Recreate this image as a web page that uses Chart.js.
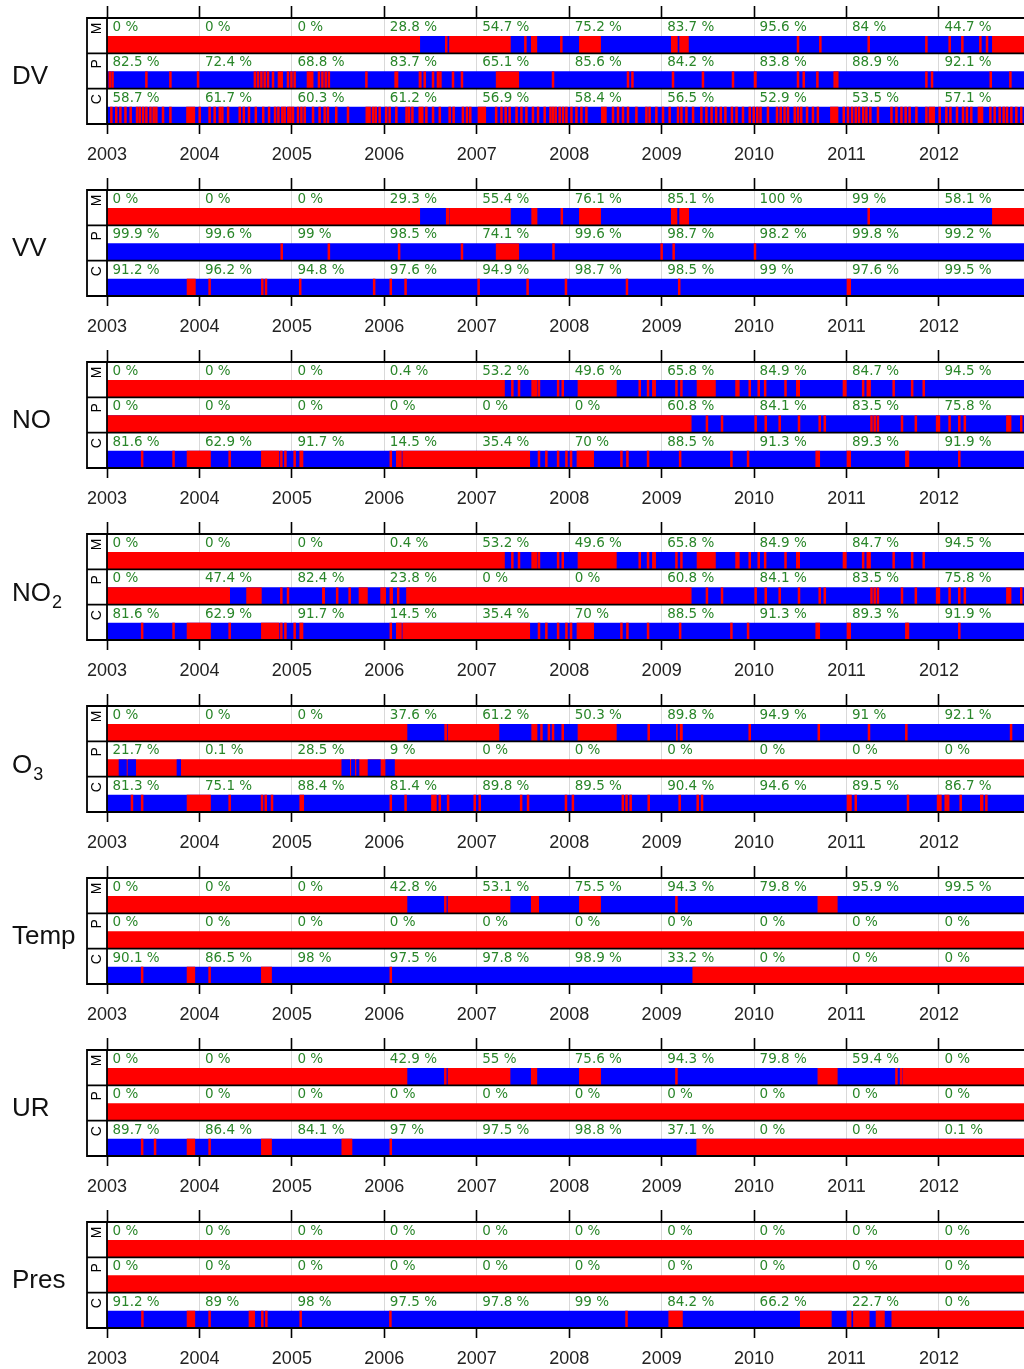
<!DOCTYPE html>
<html><head><meta charset="utf-8">
<script src="https://cdn.jsdelivr.net/npm/chart.js@4.4.1/dist/chart.umd.min.js"></script>
<style>
html,body{margin:0;padding:0;background:#fff;width:1024px;height:1369px;overflow:hidden}
canvas{position:absolute;left:0}
</style></head><body>
<script>
// ---------- DATA ----------
const years = [2003,2004,2005,2006,2007,2008,2009,2010,2011,2012];
const rowNames = ['M','P','C'];
const timeStart = 2003, timeEnd = 2013;

// yearly availability (%) printed above each bar
const DV_M_pct = [0,0,0,28.8,54.7,75.2,83.7,95.6,84,44.7];
const DV_P_pct = [82.5,72.4,68.8,83.7,65.1,85.6,84.2,83.8,88.9,92.1];
const DV_C_pct = [58.7,61.7,60.3,61.2,56.9,58.4,56.5,52.9,53.5,57.1];
const VV_M_pct = [0,0,0,29.3,55.4,76.1,85.1,100,99,58.1];
const VV_P_pct = [99.9,99.6,99,98.5,74.1,99.6,98.7,98.2,99.8,99.2];
const VV_C_pct = [91.2,96.2,94.8,97.6,94.9,98.7,98.5,99,97.6,99.5];
const NO_M_pct = [0,0,0,0.4,53.2,49.6,65.8,84.9,84.7,94.5];
const NO_P_pct = [0,0,0,0,0,0,60.8,84.1,83.5,75.8];
const NO_C_pct = [81.6,62.9,91.7,14.5,35.4,70,88.5,91.3,89.3,91.9];
const NO2_M_pct = [0,0,0,0.4,53.2,49.6,65.8,84.9,84.7,94.5];
const NO2_P_pct = [0,47.4,82.4,23.8,0,0,60.8,84.1,83.5,75.8];
const NO2_C_pct = [81.6,62.9,91.7,14.5,35.4,70,88.5,91.3,89.3,91.9];
const O3_M_pct = [0,0,0,37.6,61.2,50.3,89.8,94.9,91,92.1];
const O3_P_pct = [21.7,0.1,28.5,9,0,0,0,0,0,0];
const O3_C_pct = [81.3,75.1,88.4,81.4,89.8,89.5,90.4,94.6,89.5,86.7];
const Temp_M_pct = [0,0,0,42.8,53.1,75.5,94.3,79.8,95.9,99.5];
const Temp_P_pct = [0,0,0,0,0,0,0,0,0,0];
const Temp_C_pct = [90.1,86.5,98,97.5,97.8,98.9,33.2,0,0,0];
const UR_M_pct = [0,0,0,42.9,55,75.6,94.3,79.8,59.4,0];
const UR_P_pct = [0,0,0,0,0,0,0,0,0,0];
const UR_C_pct = [89.7,86.4,84.1,97,97.5,98.8,37.1,0,0,0.1];
const Pres_M_pct = [0,0,0,0,0,0,0,0,0,0];
const Pres_P_pct = [0,0,0,0,0,0,0,0,0,0];
const Pres_C_pct = [91.2,89,98,97.5,97.8,99,84.2,66.2,22.7,0];

// missing periods (red) over available (blue): [start,end] in years, or a single instant
const DV_M_red = [[2003,2006.383],[2006.66,2006.68],[2006.705,2007.364],2007.526,[2007.59,2007.65],2007.915,[2008.11,2008.34],[2009.105,2009.17],[2009.195,2009.29],2010.475,2010.717,2011.24,2011.864,2012.116,2012.253,2012.448,2012.52,[2012.578,2013]];
const DV_P_red = [2003.03,2003.06,2003.426,2003.686,2003.985,2004.60,2004.634,2004.67,2004.706,2004.742,2004.796,[2004.85,2004.90],2004.958,2004.995,2005.03,[2005.164,2005.23],2005.293,2005.33,2005.366,[2005.39,2005.41],2005.806,[2006.112,2006.148],[2006.375,2006.4],2006.437,2006.527,2006.58,2006.607,2006.743,2006.84,[2007.21,2007.454],2007.825,2008.636,2008.684,2009.123,2009.447,2009.772,[2010.0,2010.025],2010.475,2010.537,2010.685,2010.872,2010.9,2011.864,2011.925,2012.56,2012.773];
const DV_C_red = [2003.047,2003.10,2003.145,2003.20,2003.256,2003.325,2003.354,2003.39,2003.426,2003.47,2003.505,2003.534,2003.606,2003.686,[2003.86,2003.95],2004.003,2004.11,2004.165,2004.22,2004.248,2004.31,2004.436,2004.48,2004.536,2004.61,2004.69,2004.753,2004.818,2004.854,2004.897,2004.922,2004.962,2004.984,2005.012,2005.066,2005.103,2005.139,2005.229,2005.30,2005.355,2005.39,2005.48,2005.607,[2005.80,2005.85],2005.878,2005.907,2005.95,2006.02,2006.058,2006.13,2006.24,2006.267,2006.304,2006.383,2006.41,2006.455,2006.527,2006.60,2006.707,2006.75,2006.85,2006.894,2006.93,[2007.013,2007.097],2007.21,2007.267,2007.313,2007.356,2007.43,2007.483,2007.537,2007.608,2007.663,2007.735,2007.797,2007.825,2007.854,2007.897,2007.933,2007.97,2008.024,2008.078,2008.132,2008.186,[2008.348,2008.402],2008.474,2008.528,2008.582,2008.636,2008.727,2008.835,2008.87,2008.943,2009.015,2009.087,2009.177,2009.214,2009.268,2009.34,2009.43,2009.484,2009.54,2009.59,2009.64,2009.69,2009.76,2009.81,2009.88,2009.953,2009.996,2010.035,2010.07,2010.15,2010.248,2010.288,2010.33,2010.367,2010.44,2010.475,2010.51,2010.573,2010.637,2010.69,[2010.826,2010.908],2010.97,2011.016,2011.06,2011.1,2011.135,2011.18,2011.215,2011.258,2011.34,2011.486,2011.54,2011.594,2011.64,2011.683,2011.756,2011.864,[2011.892,2011.954],2012.008,2012.08,2012.124,2012.195,2012.26,2012.303,2012.35,[2012.422,2012.476],2012.556,2012.603,2012.657,2012.70,2012.736,2012.783,2012.837,2012.89];
const VV_M_red = [[2003,2006.383],[2006.67,2006.70],[2006.71,2007.364],[2007.594,2007.652],2007.92,[2008.11,2008.34],[2009.105,2009.166],[2009.195,2009.293],2011.24,[2012.578,2013]];
const VV_P_red = [2004.89,2005.40,2006.16,2006.84,[2007.21,2007.454],2007.83,2009.00,2009.13,2010.01];
const VV_C_red = [[2003.866,2003.956],2004.11,2004.68,2004.72,2005.09,2005.89,2006.07,2006.23,2007.02,2007.55,2007.965,2008.625,2009.19,[2011.005,2011.045]];
const NO_M_red = [[2003,2007.30],2007.385,2007.457,[2007.594,2007.652],2007.673,2007.88,2007.93,[2008.095,2008.51],2008.763,2008.853,[2008.90,2008.935],2009.16,2009.214,[2009.383,2009.582],[2009.80,2009.84],2009.953,2010.05,2010.12,2010.34,[2010.457,2010.493],[2010.962,2010.998],2011.18,[2011.22,2011.26],2011.51,2011.71,2011.835];
const NO_P_red = [[2003,2009.32],2009.49,2009.653,2010.017,2010.126,2010.277,2010.486,2010.71,2010.765,2011.27,2011.305,2011.34,2011.60,2011.75,[2011.97,2012.01],2012.115,2012.22,2012.28,[2012.73,2012.78],2012.89];
const NO_C_red = [2003.38,2003.72,[2003.866,2004.12],2004.327,[2004.67,2004.86],2004.886,2004.93,2005.03,[2005.085,2005.12],2006.07,[2006.13,2006.185],[2006.20,2007.573],2007.673,2007.753,2007.88,2007.97,2008.02,[2008.084,2008.265],2008.565,2008.63,2008.853,2009.2,2009.755,2009.935,[2010.667,2010.71],[2011.005,2011.045],2011.647,2011.665,2012.22];
const NO2_M_red = [[2003,2007.30],2007.385,2007.457,[2007.594,2007.652],2007.673,2007.88,2007.93,[2008.095,2008.51],2008.763,2008.853,[2008.90,2008.935],2009.16,2009.214,[2009.383,2009.582],[2009.80,2009.84],2009.953,2010.05,2010.12,2010.34,[2010.457,2010.493],[2010.962,2010.998],2011.18,[2011.22,2011.26],2011.51,2011.71,2011.835];
const NO2_P_red = [[2003,2004.327],[2004.51,2004.67],2004.886,2004.958,[2005.33,2005.355],2005.49,2005.625,[2005.726,2005.817],[2005.96,2006.015],[2006.06,2006.09],[2006.14,2006.16],[2006.24,2009.32],2009.49,2009.653,2010.017,2010.126,2010.277,2010.486,2010.71,2010.765,2011.27,2011.305,2011.34,2011.60,2011.75,[2011.97,2012.01],2012.115,2012.22,2012.28,[2012.73,2012.78],2012.89];
const NO2_C_red = [2003.38,2003.72,[2003.866,2004.12],2004.327,[2004.67,2004.86],2004.886,2004.93,2005.03,[2005.085,2005.12],2006.07,[2006.13,2006.185],[2006.20,2007.573],2007.673,2007.753,2007.88,2007.97,2008.02,[2008.084,2008.265],2008.565,2008.63,2008.853,2009.2,2009.755,2009.935,[2010.667,2010.71],[2011.005,2011.045],2011.647,2011.665,2012.22];
const O3_M_red = [[2003,2006.245],[2006.653,2006.675],[2006.69,2007.24],[2007.594,2007.652],2007.70,2007.78,2007.825,2007.93,[2008.095,2008.51],2008.86,[2009.16,2009.17],[2009.20,2009.225],2009.953,2010.70,2011.243,2011.647,2012.78];
// available periods (blue) over missing (red)
const O3_P_blue = [[2003.13,2003.21],[2003.227,2003.31],[2003.757,2003.797],[2005.54,2005.625],[2005.644,2005.68],[2005.70,2005.726],[2005.824,2005.957],[2006.015,2006.11]];
const O3_C_red = [2003.27,2003.38,[2003.866,2004.12],2004.327,2004.677,2004.717,2004.785,[2005.085,2005.128],2006.07,2006.23,[2006.51,2006.563],2006.6,2006.69,2006.978,2007.032,2007.48,2007.555,2007.965,2008.04,2008.58,2008.62,2008.665,2008.86,2009.195,2009.39,2009.437,[2011.005,2011.053],2011.1,2011.665,[2011.98,2012.026],2012.073,2012.1,2012.235,[2012.448,2012.477],2012.513];
const Temp_M_red = [[2003,2006.245],[2006.65,2006.67],[2006.69,2007.36],[2007.59,2007.67],[2008.11,2008.34],2009.16,[2010.69,2010.90]];
const Temp_P_blue = [];
const Temp_C_red = [2003.38,[2003.866,2003.95],2004.11,[2004.67,2004.78],2006.07,[2009.337,2013]];
const UR_M_red = [[2003,2006.245],[2006.65,2006.67],[2006.69,2007.36],[2007.59,2007.65],[2008.11,2008.34],2009.16,[2010.69,2010.90],2011.54,2011.59,[2011.61,2013]];
const UR_P_blue = [];
const UR_C_red = [2003.38,2003.52,[2003.866,2003.95],2004.11,[2004.67,2004.78],[2005.54,2005.65],2006.07,[2009.38,2013]];
const Pres_M_blue = [];
const Pres_P_blue = [];
const Pres_C_red = [2003.383,[2003.866,2003.95],2004.11,[2004.536,2004.598],2004.68,2004.724,2005.095,2006.066,2008.62,[2009.077,2009.225],[2010.50,2010.836],[2011.005,2011.05],[2011.075,2011.245],[2011.32,2011.41],[2011.49,2013]];

// ---------- BUILD ----------
const RED = '#FF0000', BLUE = '#0000FF', PCT_COLOR = '#2a862a';
const LINE_W = 0.02;        // width of an instantaneous gap, in years
const BAR_POS = 0.76;       // bar centre inside a row (row = 1 unit)
const panels = [
  {name:'DV', sub:'', rows:[[DV_M_red,'B'],[DV_P_red,'B'],[DV_C_red,'B']], pct:[DV_M_pct,DV_P_pct,DV_C_pct]},
  {name:'VV', sub:'', rows:[[VV_M_red,'B'],[VV_P_red,'B'],[VV_C_red,'B']], pct:[VV_M_pct,VV_P_pct,VV_C_pct]},
  {name:'NO', sub:'', rows:[[NO_M_red,'B'],[NO_P_red,'B'],[NO_C_red,'B']], pct:[NO_M_pct,NO_P_pct,NO_C_pct]},
  {name:'NO', sub:'2', rows:[[NO2_M_red,'B'],[NO2_P_red,'B'],[NO2_C_red,'B']], pct:[NO2_M_pct,NO2_P_pct,NO2_C_pct]},
  {name:'O', sub:'3', rows:[[O3_M_red,'B'],[O3_P_blue,'R'],[O3_C_red,'B']], pct:[O3_M_pct,O3_P_pct,O3_C_pct]},
  {name:'Temp', sub:'', rows:[[Temp_M_red,'B'],[Temp_P_blue,'R'],[Temp_C_red,'B']], pct:[Temp_M_pct,Temp_P_pct,Temp_C_pct]},
  {name:'UR', sub:'', rows:[[UR_M_red,'B'],[UR_P_blue,'R'],[UR_C_red,'B']], pct:[UR_M_pct,UR_P_pct,UR_C_pct]},
  {name:'Pres', sub:'', rows:[[Pres_M_blue,'R'],[Pres_P_blue,'R'],[Pres_C_red,'B']], pct:[Pres_M_pct,Pres_P_pct,Pres_C_pct]}
];
const seg = m => Array.isArray(m) ? m : [m - LINE_W/2, m + LINE_W/2];

const deco = {
  id:'deco',
  afterDraw(chart){
    const {ctx, chartArea, scales:{x, y}} = chart;
    const p = chart.options.plugins.deco;
    const left = 87, right = chart.width;
    const top = y.getPixelForValue(0), bottom = y.getPixelForValue(3);
    ctx.save();
    // yearly percentages
    ctx.font = '13.5px "DejaVu Sans"';
    ctx.fillStyle = PCT_COLOR; ctx.textBaseline = 'middle'; ctx.textAlign = 'left';
    p.pct.forEach((arr, i) => {
      const rt = y.getPixelForValue(i);
      arr.forEach((v, j) => ctx.fillText(v + ' %', x.getPixelForValue(years[j]) + 5.5, rt + 9.5));
    });
    // frame
    ctx.strokeStyle = '#000'; ctx.lineWidth = 1.8;
    ctx.beginPath();
    [0,1,2,3].forEach(v => { const yy = y.getPixelForValue(v); ctx.moveTo(left, yy); ctx.lineTo(right, yy); });
    ctx.moveTo(left, top - 0.9); ctx.lineTo(left, bottom + 0.9);
    ctx.moveTo(chartArea.left, top); ctx.lineTo(chartArea.left, bottom);
    ctx.stroke();
    // strip letters
    ctx.fillStyle = '#000'; ctx.font = '14px "Liberation Sans"';
    ctx.textAlign = 'center'; ctx.textBaseline = 'middle';
    rowNames.forEach((r, i) => {
      const rt = y.getPixelForValue(i);
      ctx.save(); ctx.translate(97.5, rt + 10.5); ctx.rotate(-Math.PI/2); ctx.fillText(r, 0, 0); ctx.restore();
    });
    // variable name
    ctx.textAlign = 'left'; ctx.textBaseline = 'alphabetic'; ctx.fillStyle = '#111';
    ctx.font = '26px "Liberation Sans"';
    const by = top + (p.sub ? 67 : 65.5);
    ctx.fillText(p.name, 12, by);
    if (p.sub) {
      const w = ctx.measureText(p.name).width;
      ctx.font = '18px "Liberation Sans"';
      ctx.fillText(p.sub, 12 + w + 1, by + 7);
    }
    ctx.restore();
  }
};

const X_MAX = 2012.92;
const tickYears = s => { s.ticks = years.map(v => ({value:v})); };

panels.forEach((pn, k) => {
  const cv = document.createElement('canvas');
  cv.width = 1024; cv.height = 172;
  cv.style.top = (k * 172) + 'px';
  cv.style.width = '1024px'; cv.style.height = '172px';
  document.body.appendChild(cv);
  const baseData = pn.rows.map((r, i) => ({x:[timeStart, timeEnd], y:i + BAR_POS}));
  const baseCol = pn.rows.map(r => r[1] === 'B' ? BLUE : RED);
  const ovData = [], ovCol = [];
  pn.rows.forEach((r, i) => r[0].forEach(m => { ovData.push({x:seg(m), y:i + BAR_POS}); ovCol.push(r[1] === 'B' ? RED : BLUE); }));
  new Chart(cv, {
    type:'bar',
    data:{datasets:[
      {data:ovData, backgroundColor:ovCol, order:0, xAxisID:'x', yAxisID:'y', grouped:false, barThickness:17, borderWidth:0},
      {data:baseData, backgroundColor:baseCol, order:1, xAxisID:'x', yAxisID:'y', grouped:false, barThickness:17, borderWidth:0}
    ]},
    options:{
      indexAxis:'y', responsive:false, animation:false, devicePixelRatio:1,
      layout:{padding:{left:107, right:0, top:6, bottom:0}},
      plugins:{legend:{display:false}, tooltip:{enabled:false}, deco:{pct:pn.pct, name:pn.name, sub:pn.sub}},
      scales:{
        x:{type:'linear', position:'bottom', min:timeStart, max:X_MAX, afterBuildTicks:tickYears,
           afterFit:s => { s.height = 48; },
           ticks:{autoSkip:false, maxRotation:0, padding:10, color:'#222', font:{family:'Liberation Sans', size:18}, callback:v => String(v)},
           grid:{color:'#d9d9d9', lineWidth:1, tickColor:'#000', tickLength:10, tickWidth:1.6},
           border:{display:false}},
        xTop:{type:'linear', position:'top', min:timeStart, max:X_MAX, afterBuildTicks:tickYears,
           afterFit:s => { s.height = 12; },
           ticks:{display:false},
           grid:{drawOnChartArea:false, tickColor:'#000', tickLength:12, tickWidth:1.6},
           border:{display:false}},
        y:{type:'linear', min:0, max:3, reverse:true, display:false, offset:false}
      }
    },
    plugins:[deco]
  });
});
</script>
</body></html>
